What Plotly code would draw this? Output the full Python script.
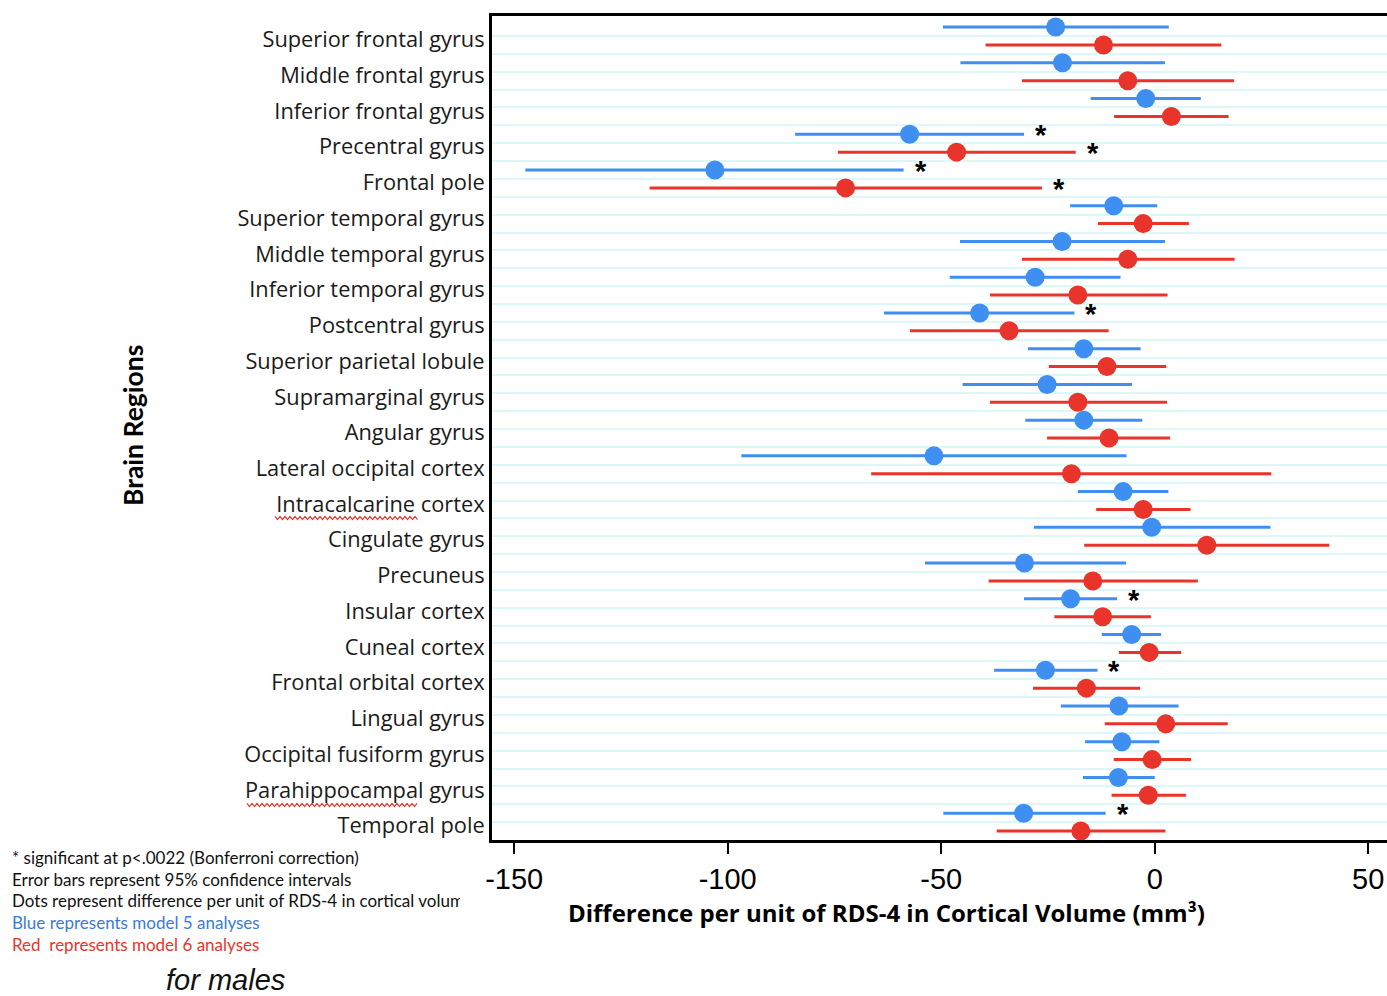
import plotly.graph_objects as go

# ---------------- data ----------------
regions = [
    "Superior frontal gyrus", "Middle frontal gyrus", "Inferior frontal gyrus",
    "Precentral gyrus", "Frontal pole", "Superior temporal gyrus",
    "Middle temporal gyrus", "Inferior temporal gyrus", "Postcentral gyrus",
    "Superior parietal lobule", "Supramarginal gyrus", "Angular gyrus",
    "Lateral occipital cortex", "Intracalcarine cortex", "Cingulate gyrus",
    "Precuneus", "Insular cortex", "Cuneal cortex", "Frontal orbital cortex",
    "Lingual gyrus", "Occipital fusiform gyrus", "Parahippocampal gyrus",
    "Temporal pole",
]

# model 5 (blue)
blue_est = [-23.2, -21.6, -2.1, -57.4, -103.0, -9.6, -21.7, -28.0, -41.0, -16.6, -25.2, -16.6,
            -51.7, -7.4, -0.7, -30.5, -19.7, -5.4, -25.6, -8.4, -7.7, -8.5, -30.7]
blue_lo = [-49.6, -45.5, -15.0, -84.2, -147.4, -19.8, -45.6, -48.0, -63.4, -29.7, -45.0, -30.3,
           -96.8, -18.0, -28.3, -53.8, -30.6, -12.4, -37.6, -22.0, -16.3, -16.8, -49.5]
blue_hi = [3.3, 2.4, 10.8, -30.6, -58.8, 0.6, 2.4, -8.0, -18.8, -3.3, -5.3, -2.9,
           -6.6, 3.2, 27.1, -6.7, -8.8, 1.5, -13.4, 5.6, 1.1, 0.0, -11.5]
blue_sig = [False, False, False, True, True, False, False, False, True, False, False, False,
            False, False, False, False, True, False, True, False, False, False, True]

# model 6 (red)
red_est = [-12.0, -6.3, 3.9, -46.4, -72.4, -2.7, -6.3, -18.0, -34.1, -11.2, -18.0, -10.7,
           -19.5, -2.7, 12.2, -14.5, -12.2, -1.3, -16.0, 2.6, -0.6, -1.5, -17.3]
red_lo = [-39.6, -31.1, -9.5, -74.2, -118.3, -13.3, -31.1, -38.6, -57.3, -24.8, -38.6, -25.2,
          -66.4, -13.7, -16.5, -38.9, -23.5, -8.4, -28.5, -11.7, -9.6, -10.1, -37.0]
red_hi = [15.6, 18.6, 17.3, -18.5, -26.4, 8.0, 18.7, 3.0, -10.8, 2.7, 2.9, 3.6,
          27.3, 8.4, 40.9, 10.1, -0.9, 6.2, -3.4, 17.1, 8.5, 7.3, 2.5]
red_sig = [False, False, False, True, True, False, False, False, False, False, False, False,
           False, False, False, False, False, False, False, False, False, False, False]

x_ticks = [-150, -100, -50, 0, 50]
notes = [
    "* significant at p<.0022 (Bonferroni correction)",
    "Error bars represent 95% confidence intervals",
    "Dots represent difference per unit of RDS-4 in cortical volume",
    "Blue represents model 5 analyses",
    "Red  represents model 6 analyses",
]

# ---------------- layout constants ----------------
W, H = 1387, 996
ML, MR, MT, MB = 492, 0, 16, 156
PW, PH = W - ML - MR, H - MT - MB

BLUE = "#3f8ef1"
RED = "#e8342b"
NOTE_BLUE = "#3b7bd6"


def pxx(x):
    return (x - ML) / PW


def pxy(y):
    return (H - MB - y) / PH


n = len(regions)
blue_y = [2 * i for i in range(n)]
red_y = [2 * i + 1 for i in range(n)]

fig = go.Figure()


def add_series(est, lo, hi, ys, color):
    fig.add_trace(go.Scatter(
        x=est, y=ys, mode="markers",
        marker=dict(size=19, color=color, line=dict(width=0)),
        error_x=dict(type="data", symmetric=False,
                     array=[h - e for h, e in zip(hi, est)],
                     arrayminus=[e - l for e, l in zip(est, lo)],
                     color=color, thickness=3, width=0),
        showlegend=False, hoverinfo="skip"))


add_series(blue_est, blue_lo, blue_hi, blue_y, BLUE)
add_series(red_est, red_lo, red_hi, red_y, RED)

annotations = []
for sig, hi, ys in ((blue_sig, blue_hi, blue_y), (red_sig, red_hi, red_y)):
    for s, h, yv in zip(sig, hi, ys):
        if s:
            annotations.append(dict(x=h, y=yv, xref="x", yref="y", text="*", showarrow=False,
                                    xshift=17, yshift=-1,
                                    font=dict(family="Liberation Sans", size=29, color="black", weight=700)))

# notes
note_y = [857, 879, 901, 922, 944]
for i, (t, yy) in enumerate(zip(notes, note_y)):
    col = "#111111"
    if i == 3:
        col = NOTE_BLUE
    elif i == 4:
        col = RED
    a = dict(x=pxx(10), y=pxy(yy), xref="paper", yref="paper", text=t, showarrow=False,
             xanchor="left", yanchor="middle", align="left",
             font=dict(family="Lato", size=17, color=col))
    if i == 2:
        a["width"] = 448
    annotations.append(a)

annotations.append(dict(x=pxx(225), y=pxy(980), xref="paper", yref="paper", text="<i>for males</i>",
                        showarrow=False, xanchor="center", yanchor="middle",
                        font=dict(family="Liberation Sans", size=29, color="#111111")))
annotations.append(dict(x=pxx(133), y=pxy(426), xref="paper", yref="paper", text="Brain Regions",
                        showarrow=False, textangle=-90, xanchor="center", yanchor="middle",
                        font=dict(family="Lato", size=26.5, color="black", weight=700)))
annotations.append(dict(x=pxx(886), y=pxy(913), xref="paper", yref="paper",
                        text="Difference per unit of RDS-4 in Cortical Volume (mm³)",
                        showarrow=False, xanchor="center", yanchor="middle",
                        font=dict(family="Open Sans", size=24, color="black", weight=700)))

# spell-check style wavy underlines
shapes = []


def wavy(x0, x1, y, amp=1.6, period=5.0):
    pts = []
    x = x0
    k = 0
    while x <= x1:
        pts.append((x, y + (amp if k % 2 else -amp)))
        x += period / 2
        k += 1
    d = "M " + " L ".join(f"{pxx(a):.5f},{pxy(b):.5f}" for a, b in pts)
    return dict(type="path", path=d, xref="paper", yref="paper",
                line=dict(color="#e8342b", width=1.2), layer="above")


shapes.append(wavy(275, 418, 518))
shapes.append(wavy(247, 418, 805))

fig.update_layout(
    width=W, height=H,
    margin=dict(l=ML, r=MR, t=MT, b=MB, pad=0),
    paper_bgcolor="white", plot_bgcolor="white",
    xaxis=dict(range=[-155.2, 54.4], tickvals=x_ticks, ticktext=[str(v) for v in x_ticks],
               ticks="outside", ticklen=11, tickwidth=2, tickcolor="black",
               showline=True, linewidth=3, linecolor="black", mirror=True,
               showgrid=False, zeroline=False,
               tickfont=dict(family="Liberation Sans", size=29, color="black")),
    yaxis=dict(range=[45.5, -0.62], tickvals=[2 * i + 0.7 for i in range(n)], ticktext=regions,
               ticks="", showline=True, linewidth=3, linecolor="black",
               showgrid=False, zeroline=False,
               tickfont=dict(family="Open Sans", size=21.8, color="#1a1a1a"),
               minor=dict(tickvals=[i + 0.5 for i in range(2 * n - 1)], showgrid=True,
                          gridcolor="#dcf8f9", gridwidth=2, ticks="")),
    annotations=annotations,
    shapes=shapes,
)

fig.write_html("out.html", config={"displayModeBar": False},
               post_script="document.body.style.margin='0';")
